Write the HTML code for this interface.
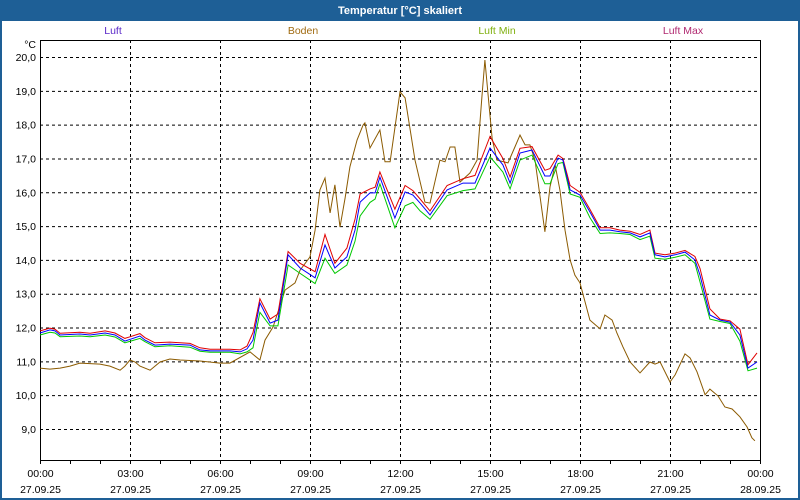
<!DOCTYPE html>
<html><head><meta charset="utf-8"><style>
html,body{margin:0;padding:0;background:#fff}
#wrap{position:relative;width:796px;height:496px;border:2px solid #1e5f96;overflow:hidden;font-family:"Liberation Sans",sans-serif}
#title{position:absolute;left:0;top:0;width:796px;height:19px;background:#1e5f96;color:#fff;font-weight:bold;font-size:11px;line-height:19px;text-align:center}
svg{position:absolute;left:-2px;top:-2px}
</style></head><body>
<div id="wrap">
<div id="title">Temperatur [°C] skaliert</div>
<svg id="chart" width="800" height="500"></svg>
</div>
<script>
const yTicks=[9,10,11,12,13,14,15,16,17,18,19,20];
const xTickHours=[0,3,6,9,12,15,18,21,24];
const xTimeLabels=["00:00","03:00","06:00","09:00","12:00","15:00","18:00","21:00","00:00"];
const xDateLabels=["27.09.25","27.09.25","27.09.25","27.09.25","27.09.25","27.09.25","27.09.25","27.09.25","28.09.25"];
const seriesNames=["Luft","Boden","Luft Min","Luft Max"];
const luftHours=[0,.33,.5,.67,1.33,1.67,2.17,2.5,2.83,3.33,3.5,3.83,4.33,5.0,5.33,5.67,6.33,6.67,6.9,7.1,7.33,7.67,7.93,8.27,8.67,9.17,9.5,9.83,10.23,10.5,10.67,11.0,11.17,11.33,11.83,12.17,12.43,12.67,13.0,13.57,14.1,14.5,15.0,15.43,15.67,16.0,16.4,16.83,17.0,17.27,17.43,17.67,18.0,18.33,18.67,19.0,19.33,19.67,20.0,20.33,20.5,20.83,21.17,21.5,21.83,22.0,22.33,22.67,23.0,23.33,23.6,23.9];
const luftValues=[11.84,11.93,11.90,11.78,11.81,11.78,11.84,11.78,11.60,11.75,11.63,11.48,11.51,11.48,11.34,11.31,11.31,11.28,11.37,11.63,12.73,12.13,12.22,14.15,13.76,13.47,14.44,13.76,14.09,14.88,15.71,15.98,15.98,16.45,15.24,16.01,15.92,15.68,15.33,16.07,16.27,16.27,17.31,16.81,16.27,17.16,17.25,16.48,16.48,17.01,16.95,16.07,15.92,15.42,14.88,14.88,14.83,14.80,14.68,14.80,14.15,14.09,14.15,14.23,14.00,13.55,12.37,12.22,12.16,11.78,10.80,10.98];
const luftMaxValues=[11.90,11.98,11.95,11.83,11.86,11.83,11.90,11.84,11.68,11.82,11.70,11.55,11.57,11.53,11.40,11.36,11.36,11.34,11.45,11.85,12.85,12.25,12.40,14.25,13.90,13.65,14.75,13.90,14.35,15.20,15.95,16.10,16.15,16.60,15.50,16.20,16.05,15.80,15.45,16.20,16.40,16.50,17.65,17.00,16.45,17.30,17.35,16.65,16.70,17.10,17.00,16.20,16.00,15.50,14.95,14.95,14.88,14.85,14.75,14.88,14.20,14.15,14.20,14.28,14.10,13.75,12.55,12.25,12.20,11.95,10.90,11.25];
const luftMinValues=[11.78,11.86,11.84,11.73,11.75,11.73,11.78,11.72,11.55,11.68,11.58,11.43,11.46,11.42,11.30,11.27,11.27,11.22,11.28,11.40,12.45,12.05,12.05,13.85,13.60,13.30,14.05,13.60,13.85,14.55,15.30,15.70,15.80,16.25,14.95,15.60,15.70,15.45,15.20,15.90,16.05,16.10,17.05,16.60,16.10,16.95,17.10,16.25,16.25,16.85,16.88,15.95,15.85,15.25,14.78,14.80,14.78,14.75,14.60,14.70,14.05,14.02,14.08,14.15,13.90,13.35,12.25,12.18,12.12,11.60,10.72,10.80];
const bodenHours=[0,.33,.67,1.0,1.33,2.0,2.33,2.67,2.83,3.0,3.17,3.33,3.67,4.0,4.33,4.67,5.33,6.0,6.33,7.0,7.33,7.5,7.77,8.17,8.5,8.67,9.0,9.17,9.33,9.5,9.67,9.83,10.0,10.17,10.33,10.57,10.77,10.83,11.0,11.33,11.5,11.67,12.0,12.17,12.5,12.83,13.0,13.33,13.5,13.67,13.83,14.0,14.33,14.57,14.73,14.83,14.93,15.07,15.23,15.6,15.83,16.0,16.17,16.33,16.5,16.83,17.0,17.17,17.33,17.5,17.67,17.83,18.0,18.33,18.67,18.83,19.07,19.23,19.43,19.67,20.0,20.33,20.5,20.67,21.0,21.17,21.5,21.67,21.9,22.17,22.33,22.6,22.83,23.07,23.33,23.57,23.73,23.83];
const bodenValues=[10.80,10.77,10.80,10.86,10.95,10.92,10.86,10.74,10.86,11.04,10.98,10.86,10.74,10.98,11.07,11.04,11.01,10.95,10.95,11.28,11.04,11.63,12.02,13.11,13.32,13.70,14.09,14.88,16.07,16.42,15.39,16.22,14.97,15.83,16.75,17.55,17.99,18.05,17.31,17.84,16.90,16.90,18.97,18.79,16.95,15.71,15.68,16.95,16.90,17.34,17.34,16.30,16.57,16.95,18.82,19.91,18.94,17.60,16.95,16.87,17.34,17.69,17.40,17.40,16.95,14.83,16.16,16.81,16.07,14.88,14.00,13.55,13.32,12.22,11.96,12.37,12.22,11.84,11.43,10.98,10.66,10.98,10.92,10.98,10.39,10.60,11.22,11.10,10.69,10.01,10.18,9.98,9.65,9.59,9.36,9.06,8.74,8.65];

const svg=document.getElementById('chart');
const NS='http://www.w3.org/2000/svg';
const L=40,R=760,T=40,B=460;
const xs=h=>L+h*(R-L)/24;
const ys=v=>57+(20-v)*(429-57)/11;
function mk(tag,attrs,parent){const e=document.createElementNS(NS,tag);for(const k in attrs)e.setAttribute(k,attrs[k]);(parent||svg).appendChild(e);return e;}
const grid=mk('g',{});


yTicks.forEach(v=>{
  const l=mk('line',{x1:L,x2:R,y1:ys(v)+.5,y2:ys(v)+.5,stroke:'#000','stroke-dasharray':'3,3','stroke-width':1},grid);
  
  
  const t=mk('text',{x:36,y:ys(v)+4,'text-anchor':'end','font-size':'10.5',fill:'#000'});
  t.textContent=v.toFixed(1).replace('.',',');
  
  
});
const deg=mk('text',{x:36,y:48,'text-anchor':'end','font-size':'10.5'});deg.textContent='°C';


xTickHours.forEach((h,i)=>{
  const x=Math.round(xs(h))+.5;
  if(i>0&&i<xTickHours.length-1){
    const l=mk('line',{x1:x,x2:x,y1:T,y2:B,stroke:'#000','stroke-dasharray':'3,3'},grid);
    
    
  }
  const t1=mk('text',{x:x,y:477,'text-anchor':'middle','font-size':'10.5'});t1.textContent=xTimeLabels[i];
  
  
  const t2=mk('text',{x:x,y:493,'text-anchor':'middle','font-size':'10.5'});t2.textContent=xDateLabels[i];
  
  
});
for(let h=0;h<=24;h++){const x=Math.round(xs(h))+.5;const l=mk('line',{x1:x,x2:x,y1:B,y2:B+4,stroke:'#000'});
  
  }
const box=mk('rect',{x:L+.5,y:T+.5,width:R-L,height:B-T,fill:'none',stroke:'#000','stroke-width':1});


function line(hours,vals,color,name){
  const p=mk('polyline',{points:hours.map((h,i)=>xs(h).toFixed(1)+','+ys(vals[i]).toFixed(1)).join(' '),fill:'none',stroke:color,'stroke-width':1});
  
  
}
line(bodenHours,bodenValues,'#8b5a00','boden-line');
line(luftHours,luftMinValues,'#00c800','luft-min-line');
line(luftHours,luftMaxValues,'#e00000','luft-max-line');
line(luftHours,luftValues,'#0000ff','luft-line');
const legX=[113,303,497,683],legC=['#5a28c8','#a06a10','#80b010','#b02870'];
seriesNames.forEach((n,i)=>{const t=mk('text',{x:legX[i],y:34,'text-anchor':'middle','font-size':'10.5',fill:legC[i]});t.textContent=n;
  
  });
</script>
</body></html>
